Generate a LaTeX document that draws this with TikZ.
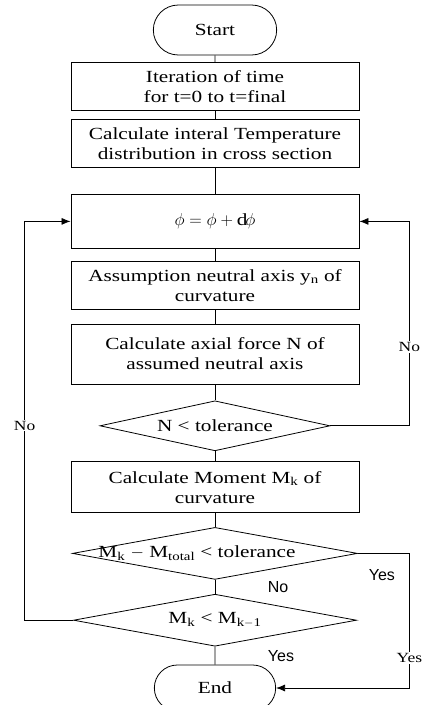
\documentclass[tikz,border=0pt]{standalone}
\usepackage{fontspec}
\setmainfont{Liberation Serif}[FakeStretch=1.25]
\newfontfamily\yesnofont{Liberation Sans}
\usetikzlibrary{arrows.meta,positioning,calc,shapes.misc,shapes.geometric}

\begin{document}
\begin{tikzpicture}[
    node distance=12pt,
    font=\fontsize{17}{20}\selectfont,
    line width=0.8pt,
    box/.style={draw,minimum width=288pt,minimum height=48pt,align=center,inner sep=2pt},
    term/.style={draw,rounded rectangle,minimum width=130pt,minimum height=50pt},
    dec/.style={draw,diamond,inner sep=0pt},
    side/.style={fill=white,inner sep=1pt,font=\fontsize{14}{16}\selectfont},
    tag/.style={inner sep=1pt,font=\yesnofont\fontsize{16}{18}\selectfont},
    arrow/.style={-{Latex[length=9pt,width=7pt]}}
]
    \useasboundingbox (-215pt,30pt) rectangle (208pt,-675pt);

    \node[term] (start) {Start};
    \node[box,below=7pt of start] (iter) {Iteration of time\\for t=0 to t=final};
    \node[box,below=8pt of iter] (temp) {Calculate interal Temperature\\distribution in cross section};
    \node[box,minimum height=54pt,below=26pt of temp] (phi) {$\phi=\phi+\mathrm{d}\phi$};
    \node[box,below=of phi] (axis) {Assumption neutral axis y\textsubscript{n} of\\curvature};
    \node[box,minimum height=60pt,below=14pt of axis] (force) {Calculate axial force N of\\assumed neutral axis};

    \node[dec,minimum width=230pt,minimum height=50pt,below=16pt of force] (d1) {};
    \node (d1t) at (d1) {N < tolerance};

    \node[box,minimum height=51pt,below=10pt of d1] (mom) {Calculate Moment M\textsubscript{k} of\\curvature};

    \node[dec,minimum width=285pt,minimum height=52pt,below=14pt of mom] (d2) {};
    \node[xshift=-18pt] (d2t) at (d2) {M\textsubscript{k} $-$ M\textsubscript{total} < tolerance};

    \node[dec,minimum width=283pt,minimum height=52pt,below=14pt of d2] (d3) {};
    \node (d3t) at (d3) {M\textsubscript{k} < M\textsubscript{k$-$1}};

    \node[term,minimum width=128pt,minimum height=46pt,below=18pt of d3] (end) {End};

    % main flow
    \draw (start) -- (iter);
    \draw (iter) -- (temp);
    \draw (temp) -- (phi);
    \draw (phi) -- (axis);
    \draw (axis) -- (force);
    \draw (force) -- (d1);
    \draw (d1) -- (mom);
    \draw (mom) -- (d2);
    \draw (d2) -- (d3);
    \draw (d3) -- (end);

    % loops back and out
    \coordinate (lx) at ($(phi.west)+(-46pt,0)$);
    \coordinate (rx) at ($(phi.east)+(50pt,0)$);
    \draw[arrow] (d1.east) -- (d1.east -| rx) |- (phi.east);
    \draw[arrow] (d3.west) -- (d3.west -| lx) |- (phi.west);
    \draw[arrow] (d2.east) -- (d2.east -| rx) |- (end.east);

    \node[side] (noleft) at (lx |- d1) {No};
    \node[side] (noright) at ($(rx |- force)+(0,7pt)$) {No};
    \node[side] (yesright) at ($(rx |- end)+(0,30pt)$) {Yes};
    \node[tag] (yesd2) at ($(d2.east)+(24pt,-22pt)$) {Yes};
    \node[tag] (nod2) at ($(d2.south)!0.5!(d3.north)+(63pt,0)$) {No};
    \node[tag] (yesd3) at ($(d3.south)!0.5!(end.north)+(66pt,0)$) {Yes};
\end{tikzpicture}
\end{document}
